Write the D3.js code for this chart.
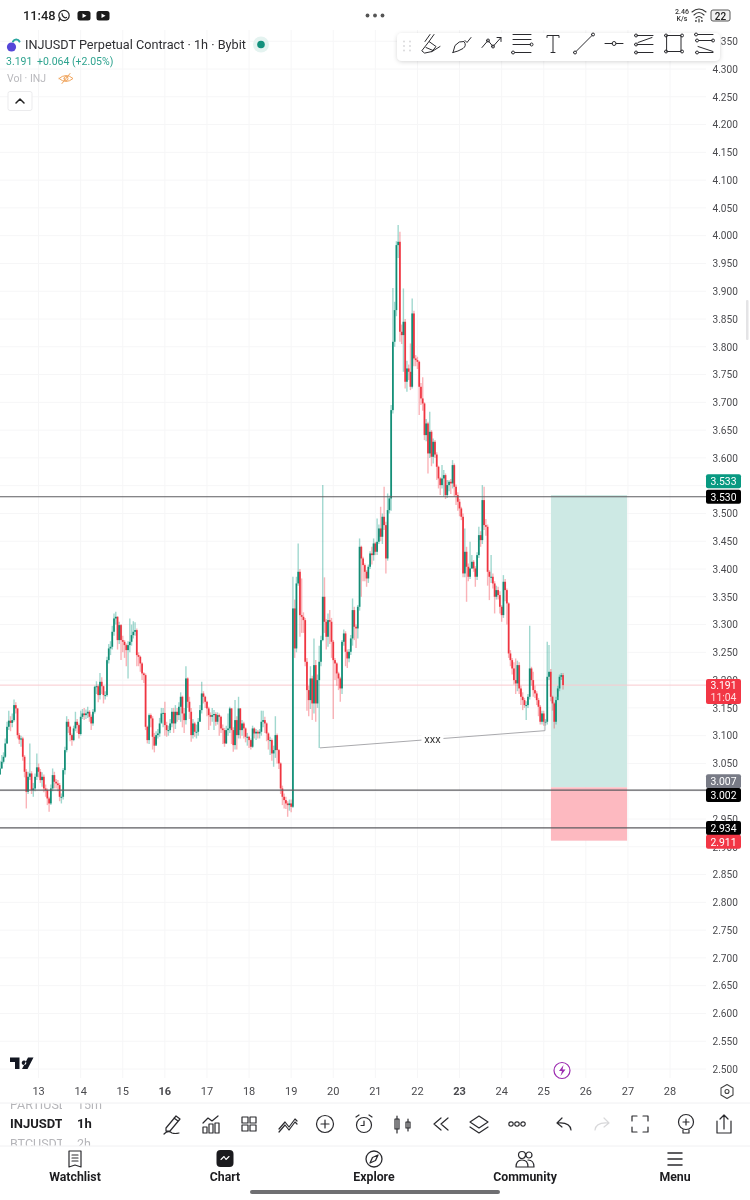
<!DOCTYPE html>
<html>
<head>
<meta charset="utf-8">
<script src="https://cdnjs.cloudflare.com/ajax/libs/d3/7.8.5/d3.min.js"></script>
<style>
  html, body { margin: 0; padding: 0; background: #fff; }
  svg { display: block; font-family: Roboto, sans-serif; }
  .candles { isolation: isolate; filter: blur(0.3px); }
  .candles rect, .candles line { mix-blend-mode: multiply; }
</style>
</head>
<body>
<svg id="chart" width="750" height="1200"></svg>
<script>
// hourly candles, oldest first
var firstOpen = 3.030;
var closes = [
  3.041,3.053,3.062,3.086,3.116,3.127,3.123,3.128,3.155,3.149,3.101,3.093,3.095,3.062,3.035,2.999,3.026,3.032,3.002,3.005,
  3.026,3.043,3.035,3.020,3.026,3.005,3.002,2.987,2.978,3.005,3.029,3.017,3.014,3.011,2.990,2.990,3.038,3.074,3.125,3.116,
  3.101,3.092,3.113,3.125,3.119,3.103,3.134,3.140,3.137,3.140,3.143,3.134,3.122,3.143,3.188,3.189,3.173,3.197,3.189,3.173,
  3.173,3.236,3.257,3.260,3.287,3.311,3.314,3.272,3.299,3.272,3.269,3.263,3.254,3.263,3.269,3.281,3.287,3.290,3.245,3.242,
  3.230,3.212,3.209,3.116,3.092,3.137,3.131,3.098,3.082,3.101,3.104,3.122,3.140,3.141,3.119,3.110,3.110,3.122,3.143,3.122,
  3.143,3.137,3.152,3.170,3.140,3.128,3.203,3.161,3.143,3.101,3.122,3.107,3.107,3.125,3.146,3.176,3.170,3.161,3.149,3.137,
  3.134,3.137,3.139,3.125,3.137,3.134,3.113,3.110,3.086,3.110,3.113,3.149,3.110,3.083,3.128,3.101,3.149,3.110,3.122,3.113,
  3.098,3.098,3.092,3.080,3.113,3.104,3.107,3.104,3.107,3.125,3.128,3.122,3.104,3.092,3.092,3.068,3.074,3.101,3.074,3.050,
  3.005,2.990,2.984,2.978,2.975,2.978,2.972,3.329,3.257,3.374,3.395,3.317,3.314,3.308,3.233,3.182,3.164,3.203,3.158,3.227,
  3.158,3.200,3.233,3.272,3.350,3.305,3.278,3.308,3.305,3.269,3.236,3.230,3.212,3.203,3.185,3.269,3.284,3.251,3.239,3.251,
  3.275,3.326,3.296,3.293,3.332,3.440,3.419,3.407,3.395,3.383,3.404,3.428,3.425,3.446,3.431,3.449,3.473,3.458,3.494,3.479,
  3.419,3.506,3.527,3.686,3.809,3.866,3.983,3.989,3.827,3.821,3.845,3.737,3.761,3.755,3.728,3.860,3.779,3.776,3.773,3.728,
  3.707,3.698,3.641,3.662,3.608,3.647,3.602,3.629,3.606,3.584,3.563,3.551,3.563,3.569,3.533,3.551,3.557,3.554,3.587,3.548,
  3.533,3.521,3.509,3.494,3.392,3.431,3.404,3.386,3.401,3.413,3.401,3.386,3.425,3.461,3.452,3.524,3.479,3.476,3.395,3.386,
  3.386,3.374,3.350,3.362,3.353,3.332,3.317,3.377,3.362,3.338,3.248,3.236,3.221,3.200,3.194,3.227,3.185,3.170,3.164,3.155,
  3.155,3.170,3.221,3.200,3.182,3.176,3.164,3.152,3.125,3.140,3.125,3.125,3.206,3.215,3.170,3.158,3.125,3.164,3.185,3.206,
  3.209,3.191
];
var highs = [
  3.055,3.065,3.070,3.095,3.125,3.145,3.135,3.140,3.165,3.160,3.150,3.105,3.100,3.098,3.065,3.040,3.035,3.086,3.036,3.015,
  3.032,3.068,3.050,3.040,3.034,3.030,3.012,3.005,2.990,3.012,3.041,3.035,3.022,3.020,3.015,2.996,3.042,3.080,3.135,3.130,
  3.118,3.104,3.118,3.143,3.130,3.122,3.145,3.148,3.150,3.147,3.152,3.146,3.138,3.148,3.190,3.198,3.192,3.213,3.205,3.190,
  3.180,3.242,3.265,3.270,3.298,3.320,3.323,3.315,3.305,3.301,3.280,3.272,3.266,3.270,3.311,3.300,3.306,3.304,3.293,3.250,
  3.244,3.232,3.214,3.212,3.118,3.140,3.140,3.135,3.105,3.108,3.112,3.132,3.150,3.150,3.161,3.125,3.118,3.130,3.150,3.150,
  3.155,3.150,3.160,3.178,3.172,3.150,3.225,3.205,3.170,3.150,3.130,3.125,3.120,3.132,3.155,3.197,3.180,3.172,3.163,3.152,
  3.142,3.150,3.146,3.142,3.142,3.140,3.136,3.120,3.114,3.118,3.140,3.152,3.150,3.115,3.164,3.135,3.170,3.150,3.128,3.125,
  3.115,3.105,3.100,3.095,3.118,3.115,3.112,3.110,3.112,3.145,3.145,3.134,3.124,3.106,3.098,3.095,3.082,3.135,3.104,3.076,
  3.052,3.010,2.996,2.990,2.982,2.985,2.985,3.386,3.345,3.386,3.446,3.400,3.383,3.322,3.312,3.240,3.190,3.225,3.208,3.275,
  3.236,3.210,3.262,3.280,3.551,3.385,3.310,3.320,3.326,3.312,3.272,3.240,3.232,3.215,3.206,3.272,3.291,3.288,3.255,3.256,
  3.281,3.347,3.332,3.300,3.335,3.455,3.442,3.422,3.410,3.398,3.408,3.432,3.440,3.455,3.449,3.491,3.480,3.512,3.500,3.548,
  3.485,3.536,3.532,3.695,3.906,3.881,3.990,4.019,4.007,3.840,3.905,3.850,3.775,3.768,3.806,3.887,3.865,3.785,3.782,3.775,
  3.735,3.745,3.700,3.670,3.665,3.683,3.650,3.635,3.632,3.610,3.586,3.565,3.587,3.578,3.572,3.560,3.560,3.562,3.596,3.590,
  3.552,3.538,3.526,3.512,3.500,3.473,3.440,3.410,3.449,3.425,3.416,3.405,3.430,3.476,3.468,3.551,3.548,3.490,3.480,3.398,
  3.425,3.392,3.378,3.370,3.368,3.360,3.335,3.389,3.382,3.365,3.340,3.254,3.240,3.232,3.239,3.235,3.232,3.190,3.178,3.168,
  3.162,3.175,3.298,3.224,3.215,3.190,3.180,3.168,3.155,3.145,3.145,3.130,3.269,3.263,3.220,3.172,3.160,3.170,3.190,3.210,
  3.213,3.213
];
var lows = [
  3.030,3.040,3.050,3.060,3.085,3.110,3.108,3.115,3.125,3.140,3.095,3.085,3.080,3.055,3.025,2.969,2.995,3.020,2.995,2.990,
  3.000,3.020,3.025,3.015,3.008,2.998,2.990,2.975,2.963,2.975,3.000,3.005,3.005,3.000,2.982,2.978,2.985,3.030,3.070,3.105,
  3.090,3.082,3.090,3.108,3.105,3.095,3.100,3.130,3.128,3.130,3.132,3.125,3.110,3.118,3.140,3.175,3.160,3.165,3.175,3.158,
  3.165,3.170,3.230,3.245,3.255,3.280,3.300,3.255,3.265,3.236,3.250,3.240,3.225,3.203,3.250,3.262,3.275,3.280,3.225,3.225,
  3.215,3.200,3.195,3.110,3.086,3.085,3.115,3.075,3.070,3.085,3.095,3.098,3.125,3.115,3.100,3.098,3.100,3.105,3.115,3.105,
  3.112,3.125,3.128,3.125,3.115,3.105,3.120,3.150,3.130,3.089,3.095,3.098,3.095,3.100,3.125,3.140,3.158,3.150,3.135,3.110,
  3.118,3.125,3.110,3.118,3.120,3.100,3.105,3.085,3.080,3.085,3.100,3.105,3.085,3.071,3.075,3.075,3.095,3.095,3.100,3.095,
  3.088,3.082,3.078,3.075,3.078,3.095,3.092,3.095,3.095,3.100,3.115,3.105,3.090,3.075,3.065,3.055,3.044,3.060,3.050,3.040,
  2.995,2.975,2.969,2.968,2.954,2.965,2.962,2.970,3.240,3.250,3.370,3.278,3.285,3.285,3.225,3.145,3.135,3.148,3.128,3.140,
  3.125,3.150,3.078,3.225,3.270,3.285,3.255,3.260,3.265,3.240,3.130,3.200,3.190,3.182,3.161,3.175,3.262,3.225,3.222,3.232,
  3.245,3.262,3.272,3.258,3.275,3.325,3.350,3.378,3.378,3.368,3.375,3.400,3.408,3.415,3.425,3.425,3.445,3.450,3.445,3.470,
  3.392,3.415,3.500,3.505,3.680,3.800,3.855,3.960,3.809,3.805,3.755,3.725,3.719,3.740,3.722,3.725,3.765,3.765,3.760,3.677,
  3.695,3.685,3.632,3.630,3.572,3.600,3.585,3.590,3.600,3.560,3.545,3.533,3.545,3.530,3.526,3.528,3.540,3.535,3.545,3.530,
  3.515,3.505,3.495,3.488,3.385,3.385,3.341,3.378,3.382,3.400,3.395,3.368,3.380,3.420,3.440,3.445,3.470,3.460,3.370,3.344,
  3.375,3.365,3.320,3.345,3.345,3.320,3.305,3.312,3.342,3.300,3.240,3.225,3.210,3.192,3.175,3.180,3.175,3.155,3.146,3.150,
  3.128,3.150,3.165,3.190,3.170,3.168,3.155,3.135,3.120,3.120,3.118,3.118,3.120,3.200,3.162,3.145,3.113,3.120,3.170,3.180,
  3.200,3.183
];

// every price on the grid; the axis skips the two that sit fully behind a tag
var priceTicks = d3.range(0, 38).map(function(k) { return (2500 + k * 50) / 1000; });
var hiddenTicks = [3.55, 3.0];
var dayLabels = [13, 14, 15, 16, 17, 18, 19, 20, 21, 22, 23, 24, 25, 26, 27, 28];
var boldDays = [16, 23];

var levels = [3.530, 3.002, 2.934];
var lastPrice = 3.191;
var positionHours = [314.1, 357.5];
var positionPrices = [3.533, 3.007, 2.911];
var trendHours = [182.4, 310.7];
var trendPrices = [3.078, 3.109];
var trendStubPrice = 3.128;

var priceLabels = [
  {text: "3.533", price: 3.558, color: "#089981"},
  {text: "3.530", price: 3.530, color: "#000"},
  {text: "3.007", price: 3.018, color: "#787b86"},
  {text: "3.002", price: 2.993, color: "#000"},
  {text: "2.934", price: 2.934, color: "#000"},
  {text: "2.911", price: 2.909, color: "#f23645"}
];

var UP = "#089981", DOWN = "#f23645";
var svg = d3.select("#chart");

var x = d3.scaleLinear().domain([0, 400]).range([0, 701.6]);
var y = d3.scaleLinear().domain([2.5, 4.3]).range([1069, 69]);
var hourOfDay = function(day) { return 22 + 24 * (day - 13); };

// grid
var grid = svg.append("g").attr("stroke", "#f6f6f7").attr("stroke-width", 1);
priceTicks.forEach(function(p) {
  grid.append("line").attr("x1", 0).attr("x2", 706).attr("y1", y(p)).attr("y2", y(p));
});
dayLabels.forEach(function(d) {
  grid.append("line").attr("x1", x(hourOfDay(d))).attr("x2", x(hourOfDay(d))).attr("y1", 30).attr("y2", 1078);
});

// long position box
var box = svg.append("g");
box.append("rect")
  .attr("x", x(positionHours[0])).attr("width", x(positionHours[1]) - x(positionHours[0]))
  .attr("y", y(positionPrices[0])).attr("height", y(positionPrices[1]) - y(positionPrices[0]))
  .attr("fill", "#cde9e4");
box.append("rect")
  .attr("x", x(positionHours[0])).attr("width", x(positionHours[1]) - x(positionHours[0]))
  .attr("y", y(positionPrices[1])).attr("height", y(positionPrices[2]) - y(positionPrices[1]))
  .attr("fill", "#fdb9c0");

// last price line
svg.append("line").attr("x1", 0).attr("x2", 706)
  .attr("y1", y(lastPrice)).attr("y2", y(lastPrice))
  .attr("stroke", "#f9c9ce").attr("stroke-width", 1);

// candles
var candles = svg.append("g").attr("class", "candles");
closes.forEach(function(c, i) {
  var o = i ? closes[i - 1] : firstOpen;
  var col = c >= o ? UP : DOWN;
  candles.append("line")
    .attr("x1", x(i)).attr("x2", x(i))
    .attr("y1", y(highs[i])).attr("y2", y(lows[i]))
    .attr("stroke", col).attr("stroke-opacity", 0.38).attr("stroke-width", 1.4);
  candles.append("rect")
    .attr("x", x(i) - 0.9).attr("width", 1.8)
    .attr("y", y(Math.max(o, c))).attr("height", Math.max(1, Math.abs(y(o) - y(c))))
    .attr("fill", col).attr("fill-opacity", 0.9);
});

// trend line with its text
var line = d3.line().x(function(d) { return d[0]; }).y(function(d) { return d[1]; });
svg.append("path")
  .attr("d", line([
    [x(trendHours[0]), y(trendPrices[0])],
    [x(trendHours[1]), y(trendPrices[1])],
    [x(trendHours[1]), y(trendStubPrice)]
  ]))
  .attr("fill", "none").attr("stroke", "#a9a9ad").attr("stroke-width", 1);
var midH = (trendHours[0] + trendHours[1]) / 2, midP = (trendPrices[0] + trendPrices[1]) / 2;
svg.append("rect").attr("x", x(midH) - 11).attr("y", y(midP) - 6).attr("width", 22).attr("height", 12).attr("fill", "#fff");
svg.append("text").attr("x", x(midH)).attr("y", y(midP) + 4).attr("text-anchor", "middle")
  .attr("font-size", 11).attr("fill", "#333").text("xxx");

// horizontal levels
levels.forEach(function(p) {
  svg.append("line").attr("x1", 0).attr("x2", 706).attr("y1", y(p)).attr("y2", y(p))
    .attr("stroke", "#5d5d60").attr("stroke-width", 1.1);
});

// axes
var yAxis = d3.axisRight(y)
  .tickValues(priceTicks.filter(function(p) { return hiddenTicks.indexOf(p) < 0; }))
  .tickSize(0).tickPadding(0).tickFormat(d3.format(".3f"));
var yG = svg.append("g").attr("transform", "translate(712.5,0)").call(yAxis);
yG.select(".domain").remove();
yG.selectAll("text").attr("font-size", 10.1).attr("font-family", "Roboto, sans-serif").attr("fill", "#4a4a4e");

var xAxis = d3.axisBottom(x).tickValues(dayLabels.map(hourOfDay)).tickSize(0).tickPadding(0)
  .tickFormat(function(h) { return (h - 22) / 24 + 13; });
var xG = svg.append("g").attr("transform", "translate(-0.5,1087)").call(xAxis);
xG.select(".domain").remove();
xG.selectAll("text").attr("font-size", 11).attr("font-family", "Roboto, sans-serif").attr("fill", "#4a4a4e")
  .attr("font-weight", function(h) {
    return boldDays.indexOf((h - 22) / 24 + 13) >= 0 ? 700 : 400;
  });

// price labels
function priceTag(p, text, color) {
  var cy = y(p);
  svg.append("rect").attr("x", 706).attr("y", cy - 7).attr("width", 35).attr("height", 14).attr("rx", 2).attr("fill", color);
  svg.append("text").attr("x", 723.5).attr("y", cy + 3.8).attr("text-anchor", "middle")
    .attr("font-size", 10.4).attr("fill", "#fff").text(text);
}
priceLabels.forEach(function(l) { priceTag(l.price, l.text, l.color); });
svg.append("rect").attr("x", 706).attr("y", y(lastPrice) - 6).attr("width", 35).attr("height", 25).attr("rx", 2).attr("fill", DOWN);
svg.append("text").attr("x", 723.5).attr("y", y(lastPrice) + 4).attr("text-anchor", "middle").attr("font-size", 10.4).attr("fill", "#fff").text("3.191");
svg.append("text").attr("x", 723.5).attr("y", y(lastPrice) + 16).attr("text-anchor", "middle").attr("font-size", 10.4).attr("fill", "#ffd9dc").text("11:04");

// ---- app chrome below
function dot(cx, cy, r) {
  r = r || 1.5;
  return "M" + (cx - r) + " " + cy + "a" + r + " " + r + " 0 1 0 " + (2 * r) + " 0a" + r + " " + r + " 0 1 0 " + (-2 * r) + " 0";
}
function icon(cx, cy, d, color, sw) {
  return svg.append("path").attr("transform", "translate(" + cx + "," + cy + ")").attr("d", d)
    .attr("fill", "none").attr("stroke", color || "#2a2a2e").attr("stroke-width", sw || 1.2)
    .attr("stroke-linecap", "round").attr("stroke-linejoin", "round");
}
function label(tx, ty, text, size, color, weight, anchor) {
  return svg.append("text").attr("x", tx).attr("y", ty).attr("font-size", size).attr("fill", color)
    .attr("font-weight", weight || 400).attr("text-anchor", anchor || "start").text(text);
}

// status bar
label(23, 20, "11:48", 12.8, "#222", 500);
icon(64, 15.5, dot(0, 0, 5.2) + "M-5 5.5L-3.8 2.5M-2 -2C-2 1 1 3 2.5 2", "#222", 1.2);
[84, 103].forEach(function(cx) {
  svg.append("rect").attr("x", cx - 6.5).attr("y", 11).attr("width", 13).attr("height", 9.5).attr("rx", 2.5).attr("fill", "#1b1b1b");
  svg.append("path").attr("d", "M" + (cx - 1.5) + " 13.5l4 2.2l-4 2.2z").attr("fill", "#fff");
});
[367.5, 375, 382.5].forEach(function(cx) {
  svg.append("circle").attr("cx", cx).attr("cy", 15.5).attr("r", 1.9).attr("fill", "#555");
});
label(682, 14, "2.46", 7, "#333", 500, "middle");
label(682, 21, "K/s", 7, "#333", 500, "middle");
icon(699, 14, "M-7 -2Q0 -8 7 -2M-5 1Q0 -4 5 1M-3 4Q0 1 3 4M0 5V8", "#333", 1.1);
icon(696, 21, dot(0, 0, .5) + dot(6, 0, .5), "#333", 1);
svg.append("rect").attr("x", 711).attr("y", 10).attr("width", 19).attr("height", 11).attr("rx", 2).attr("fill", "#f1f1f1").attr("stroke", "#444").attr("stroke-width", .9);
label(720.5, 19.5, "22", 10, "#222", 500, "middle");

// header legend
svg.append("circle").attr("cx", 11.5).attr("cy", 47).attr("r", 4.6).attr("fill", "#5546d8");
icon(16, 41.5, "M-3 0A3.6 3.6 0 0 1 3.5 0", "#2aa6a0", 2);
label(25, 49, "INJUSDT Perpetual Contract · 1h · Bybit", 12.7, "#2f2f33");
svg.append("circle").attr("cx", 261).attr("cy", 44.5).attr("r", 8).attr("fill", "#e4f3f0");
svg.append("circle").attr("cx", 261).attr("cy", 44.5).attr("r", 3.8).attr("fill", "#14917d");
label(6, 65, "3.191", 10.5, "#2ea38f");
label(37, 65, "+0.064 (+2.05%)", 10.5, "#2ea38f");
label(7, 82, "Vol · INJ", 10.5, "#b9b9bd");
icon(66, 78.5, "M-7 0Q0 -6 7 0Q0 6 -7 0M-4 5L4 -5" + dot(0, 0, 2), "#f0a45c", 1);
svg.append("rect").attr("x", 8).attr("y", 91.5).attr("width", 24).attr("height", 19).attr("rx", 2).attr("fill", "#fff").attr("stroke", "#ebebed");
icon(20, 101, "M-4 2L0 -2L4 2", "#222", 1.5);

// drawing toolbar
var defs = svg.append("defs");
var shadow = defs.append("filter").attr("id", "soft").attr("x", "-5%").attr("y", "-30%").attr("width", "110%").attr("height", "170%");
shadow.append("feDropShadow").attr("dx", 0).attr("dy", 1).attr("stdDeviation", 2).attr("flood-color", "#000").attr("flood-opacity", 0.16);
svg.append("rect").attr("x", 397).attr("y", 33).attr("width", 323).attr("height", 28).attr("rx", 5).attr("fill", "#fff").attr("filter", "url(#soft)");
[0, 1, 2].forEach(function(r) {
  [404, 410].forEach(function(cx) {
    svg.append("circle").attr("cx", cx).attr("cy", 41.5 + r * 4.5).attr("r", .9).attr("fill", "#d6d6d8");
  });
});
var toolbarIcons = [
  [431, "M-9 7L-2 -2L5 3L1 8L-6 9.5ZM-6 -2L-1 -9M-2 -2L3 -9M1 8L9 3M-5 4L2 7"],
  [462, "M-9 9L-7 2Q-3 -3 2 -2Q5 2 1 5Q-4 8 -9 9ZM3 -3L5 -1L9 -6"],
  [492, "M-10 4L-4 -3L1 3L9 -6M5 -6H9V-2" + dot(-4, -3) + dot(1, 3)],
  [522, "M-9 -9H9M-9 -4H9M-9 1H8M-7 9H9" + dot(9.5, 1) + dot(-9, 9)],
  [553, "M-6 -6V-8H6V-6M0 -8V9M-2 9H2"],
  [584, "M-8 8L8 -8" + dot(-9, 9) + dot(9, -9)],
  [614, "M-9 0H-2M2 0H9" + dot(0, 0, 2)],
  [644, "M-7 -8H9M-7 1H9M-7 9H9M-6 -1L8 -6" + dot(-8, -8) + dot(-8, 1) + dot(-8, 9)],
  [674, "M-7 -8H7V8H-7Z" + dot(-8, -8) + dot(8, -8) + dot(-8, 8) + dot(8, 8)],
  [704, "M-6 -9H9M-5 -3H8M-6 3L9 8M-5 9H9" + dot(-8, -9) + dot(-7, -3) + dot(9, -3) + dot(-7, 9)]
];
toolbarIcons.forEach(function(t) { icon(t[0], 43.5, t[1], "#2a2a2e", 1); });

// tradingview logo, bolt, settings
svg.append("path").attr("d", "M10 1057.5H19.5V1069H15V1062H10ZM24 1060.5a2.3 2.3 0 1 0 .01 0ZM28 1057.5H33.5L27.5 1069H22Z").attr("fill", "#131722");
svg.append("circle").attr("cx", 562).attr("cy", 1070.5).attr("r", 8).attr("fill", "#fff").attr("stroke", "#9c2bb0").attr("stroke-width", 1.2);
svg.append("path").attr("d", "M563.5 1065L559 1071H562L560.5 1076L565.5 1069.5H562.5Z").attr("fill", "#9c2bb0");
icon(727, 1091.5, "M0 -7L6 -3.5V3.5L0 7L-6 3.5V-3.5Z" + dot(0, 0, 2), "#444", 1.1);

// right scroll hint
svg.append("rect").attr("x", 746).attr("y", 300).attr("width", 2.5).attr("height", 40).attr("rx", 1).attr("fill", "#e4e4e6");

// symbol switcher rows and tool strip
svg.append("rect").attr("x", 0).attr("y", 1103).attr("width", 750).attr("height", 97).attr("fill", "#fff");
svg.append("line").attr("x1", 0).attr("x2", 750).attr("y1", 1103).attr("y2", 1103).attr("stroke", "#f0f0f2");
svg.append("line").attr("x1", 0).attr("x2", 750).attr("y1", 1146).attr("y2", 1146).attr("stroke", "#f0f0f2");
defs.append("clipPath").attr("id", "rows").append("rect").attr("x", 0).attr("y", 1103.5).attr("width", 110).attr("height", 42);
defs.append("clipPath").attr("id", "symbols").append("rect").attr("x", 0).attr("y", 1103.5).attr("width", 62).attr("height", 42);
var rows = svg.append("g").attr("clip-path", "url(#rows)");
var symbols = svg.append("g").attr("clip-path", "url(#symbols)");
[["PARTIUSDT", "15m", 1109, "#b5b5b9", 400, 12.5], ["INJUSDT", "1h", 1128, "#1d1d20", 700, 13], ["BTCUSDT", "2h", 1148, "#b5b5b9", 400, 12.5]].forEach(function(r) {
  symbols.append("text").attr("x", 10).attr("y", r[2]).attr("font-size", r[5]).attr("font-weight", r[4]).attr("fill", r[3]).text(r[0]);
  rows.append("text").attr("x", 77).attr("y", r[2]).attr("font-size", r[5]).attr("font-weight", r[4]).attr("fill", r[3]).text(r[1]);
});
var stripIcons = [
  [172, "M-8 10Q-4 6 0 9Q3 10 7 9M-6 4L4 -8L8 -5L-2 7L-6 7ZM2 -6L6 -3", "#2a2a2e"],
  [211, "M-8 9V3H-4V9ZM-2 9V0H2V9ZM4 9V-1H8V9ZM-8 -1L-3 -6L1 -3L7 -8", "#2a2a2e"],
  [249, "M-7 -7H-1V-1H-7ZM1 -7H7V-1H1ZM-7 1H-1V7H-7ZM1 1H7V7H1Z", "#2a2a2e"],
  [288, "M-9 5L-3 -2L1 3L7 -5L9 -3M-9 8L-3 1L1 6L7 -2L9 0", "#2a2a2e"],
  [325, dot(0, 0, 8.5) + "M-4 0H4M0 -4V4", "#2a2a2e"],
  [364, dot(0, 1, 7.5) + "M0 -3V1.5H-3M-8 -7L-5 -9M8 -7L5 -9", "#2a2a2e"],
  [403, "M-6 -8V9M-8 -5H-4V5H-8ZM5 -5V7M3 -2H7V4H3Z", "#2a2a2e"],
  [441, "M0 -6L-7 0L0 6M7 -6L0 0L7 6", "#2a2a2e"],
  [479, "M0 -8L9 -2L0 4L-9 -2ZM-9 3L0 9L9 3", "#2a2a2e"],
  [517, dot(-6, 0, 2.2) + dot(0, 0, 2.2) + dot(6, 0, 2.2), "#2a2a2e"],
  [564, "M7 6Q6 -2 -6 -1M-2 -6L-7 -1L-2 3", "#2a2a2e"],
  [602, "M-7 6Q-6 -2 6 -1M2 -6L7 -1L2 3", "#d8d8da"],
  [640, "M-8 -3V-8H-3M3 -8H8V-3M8 3V8H3M-3 8H-8V3", "#2a2a2e"],
  [686, dot(0, -2, 7.5) + "M-3 -2H3M0 -5V1M-3 6V9H3V6", "#2a2a2e"],
  [724, "M-7 -3V9H7V-3M0 5V-9M-4 -5L0 -9L4 -5", "#2a2a2e"]
];
stripIcons.forEach(function(t) { icon(t[0], 1124, t[1], t[2], 1.2); });

// bottom nav
var navItems = [["Watchlist", 75], ["Chart", 225], ["Explore", 374], ["Community", 525], ["Menu", 675]];
navItems.forEach(function(n) { label(n[1], 1181, n[0], 12.3, "#1d1d20", 700, "middle"); });
icon(75, 1159, "M-6 -8H6V8L0 6L-6 8ZM-3 -4H3M-3 -1H3M-3 2H3", "#2a2a2e", 1.2);
svg.append("rect").attr("x", 216.5).attr("y", 1150).attr("width", 17).attr("height", 17).attr("rx", 4).attr("fill", "#1b1b1e");
icon(225, 1158.5, "M-4 1L-1 -2L1 1L4 -2", "#fff", 1.1);
icon(374, 1159, dot(0, 0, 8) + "M4 -4L1.5 1.5L-4 4L-1.5 -1.5Z", "#2a2a2e", 1.3);
icon(525, 1159, dot(-3, -4, 3.5) + dot(4, -4, 3) + "M-9 8Q-9 1 -3 1Q3 1 3 8ZM3 1Q9 1 9 8H3", "#2a2a2e", 1.2);
icon(675, 1159, "M-7 -6H7M-7 0H7M-7 6H7", "#2a2a2e", 1.5);
svg.append("rect").attr("x", 250).attr("y", 1190).attr("width", 250).attr("height", 4).attr("rx", 2).attr("fill", "#6f6f72");
</script>
</body>
</html>
